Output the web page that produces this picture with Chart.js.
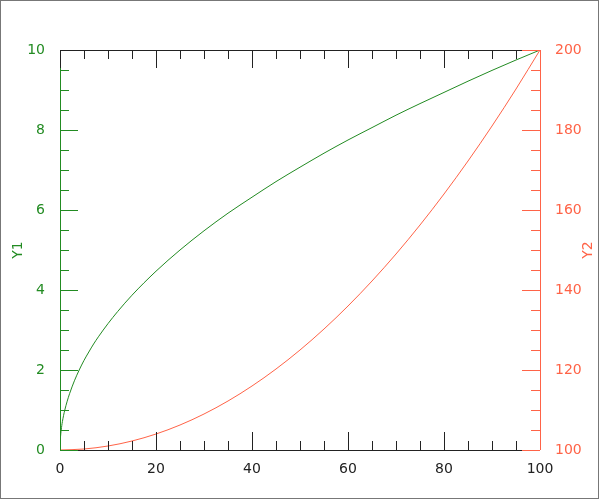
<!DOCTYPE html>
<html>
<head>
<meta charset="utf-8">
<script src="https://cdn.jsdelivr.net/npm/chart.js@4/dist/chart.umd.min.js"></script>
<style>
  html, body { margin: 0; padding: 0; background: #fff; }
  canvas { display: block; }
</style>
</head>
<body>
<canvas id="c" width="600" height="500"></canvas>
<script>
// Data
const y1X = [0, 0.05, 0.1, 0.25, 0.5, 1, 1.5, 2, 3, 4, 5, 6, 7, 8, 10, 12, 15, 20, 25, 30, 35, 40, 45, 50, 55, 60, 65, 70, 75, 80, 85, 90, 95, 100];
const y1Values = [0, 0.22, 0.32, 0.5, 0.71, 1, 1.22, 1.41, 1.73, 2, 2.24, 2.45, 2.65, 2.83, 3.16, 3.46, 3.87, 4.47, 5, 5.48, 5.92, 6.32, 6.71, 7.07, 7.42, 7.75, 8.06, 8.37, 8.66, 8.94, 9.22, 9.49, 9.75, 10];
const y2X = [0, 5, 10, 15, 20, 25, 30, 35, 40, 45, 50, 55, 60, 65, 70, 75, 80, 85, 90, 95, 100];
const y2Values = [100, 100.25, 101, 102.25, 104, 106.25, 109, 112.25, 116, 120.25, 125, 130.25, 136, 142.25, 149, 156.25, 164, 172.25, 181, 190.25, 200];
const xTickLabels = [0, 20, 40, 60, 80, 100];
const y1TickLabels = [0, 2, 4, 6, 8, 10];
const y2TickLabels = [100, 120, 140, 160, 180, 200];
const y1Title = 'Y1';
const y2Title = 'Y2';

const GREEN = '#228b22';
const RED = '#ff6347';
const BLACK = '#222222';
const FONT = { family: 'DejaVu Sans', size: 14 };

const axisDeco = {
  id: 'axisDeco',
  beforeDraw(chart) {
    const ctx = chart.ctx;
    ctx.save();
    ctx.fillStyle = '#ffffff';
    ctx.fillRect(0, 0, chart.width, chart.height);
    ctx.restore();
  },
  afterDatasetsDraw(chart) {
    const ctx = chart.ctx;
    const a = chart.chartArea;
    const sx = chart.scales.x, sy = chart.scales.y, sy2 = chart.scales.y2;
    const MAJ = 18, MIN = 9;
    ctx.save();
    ctx.lineWidth = 1;
    function line(x1, y1, x2, y2) {
      ctx.beginPath(); ctx.moveTo(x1, y1); ctx.lineTo(x2, y2); ctx.stroke();
    }
    function hTicks(edgeY, dir) {
      for (let v = 0; v <= 100 + 1e-9; v += 5) {
        const px = Math.round(sx.getPixelForValue(v)) + 0.5;
        const len = (Math.abs(v % 20) < 1e-9) ? MAJ : MIN;
        line(px, edgeY, px, edgeY + dir * len);
      }
    }
    // bottom axis
    ctx.strokeStyle = BLACK;
    line(a.left, a.bottom + 0.5, a.right, a.bottom + 0.5);
    hTicks(a.bottom, -1);
    // left axis
    ctx.strokeStyle = GREEN;
    line(a.left + 0.5, a.top, a.left + 0.5, a.bottom);
    for (let v = 0; v <= 10 + 1e-9; v += 0.5) {
      const py = Math.round(sy.getPixelForValue(v)) + 0.5;
      const len = (Math.abs(v % 2) < 1e-9) ? MAJ : MIN;
      line(a.left, py, a.left + len, py);
    }
    // top axis
    ctx.strokeStyle = BLACK;
    line(a.left, a.top + 0.5, a.right, a.top + 0.5);
    hTicks(a.top, 1);
    // right axis
    ctx.strokeStyle = RED;
    line(a.right + 0.5, a.top, a.right + 0.5, a.bottom);
    for (let v = 100; v <= 200 + 1e-9; v += 5) {
      const py = Math.round(sy2.getPixelForValue(v)) + 0.5;
      const len = (Math.abs((v - 100) % 20) < 1e-9) ? MAJ : MIN;
      line(a.right, py, a.right - len, py);
    }
    // axis titles (both read bottom to top)
    ctx.font = '14px "DejaVu Sans"';
    ctx.textAlign = 'center';
    ctx.textBaseline = 'middle';
    const cy = (a.top + a.bottom) / 2;
    ctx.fillStyle = GREEN;
    ctx.save(); ctx.translate(18, cy); ctx.rotate(-Math.PI / 2); ctx.fillText(y1Title, 0, 0); ctx.restore();
    ctx.fillStyle = RED;
    ctx.save(); ctx.translate(588, cy); ctx.rotate(-Math.PI / 2); ctx.fillText(y2Title, 0, 0); ctx.restore();
    // outer frame
    ctx.strokeStyle = '#777777';
    ctx.strokeRect(0.5, 0.5, chart.width - 2, chart.height - 2);
    ctx.restore();
  }
};

const chart = new Chart(document.getElementById('c'), {
  type: 'line',
  data: {
    datasets: [
      {
        label: y1Title,
        data: y1X.map((x, i) => ({ x: x, y: y1Values[i] })),
        borderColor: GREEN, borderWidth: 1, pointRadius: 0,
        cubicInterpolationMode: 'monotone', yAxisID: 'y', xAxisID: 'x', fill: false
      },
      {
        label: y2Title,
        data: y2X.map((x, i) => ({ x: x, y: y2Values[i] })),
        borderColor: RED, borderWidth: 1, pointRadius: 0,
        cubicInterpolationMode: 'monotone', yAxisID: 'y2', xAxisID: 'x', fill: false
      }
    ]
  },
  options: {
    responsive: false,
    animation: false,
    devicePixelRatio: 1,
    layout: { padding: 0 },
    plugins: { legend: { display: false }, tooltip: { enabled: false } },
    scales: {
      x: {
        type: 'linear', position: 'bottom', min: 0, max: 100,
        grid: { display: false }, border: { display: false },
        afterBuildTicks: s => { s.ticks = xTickLabels.map(v => ({ value: v })); },
        ticks: { color: BLACK, font: FONT, padding: 3, maxRotation: 0, autoSkip: false },
        afterFit: s => { s.height = 50; }
      },
      x2: {
        type: 'linear', position: 'top', min: 0, max: 100,
        grid: { display: false }, border: { display: false },
        ticks: { display: false },
        afterFit: s => { s.height = 50; }
      },
      y: {
        type: 'linear', position: 'left', min: 0, max: 10,
        grid: { display: false }, border: { display: false },
        afterBuildTicks: s => { s.ticks = y1TickLabels.map(v => ({ value: v })); },
        ticks: { color: GREEN, font: FONT, padding: 7, autoSkip: false },
        afterFit: s => { s.width = 60; }
      },
      y2: {
        type: 'linear', position: 'right', min: 100, max: 200,
        grid: { display: false }, border: { display: false },
        afterBuildTicks: s => { s.ticks = y2TickLabels.map(v => ({ value: v })); },
        ticks: { color: RED, font: FONT, padding: 7, autoSkip: false },
        afterFit: s => { s.width = 60; }
      }
    }
  },
  plugins: [axisDeco]
});
</script>
</body>
</html>
